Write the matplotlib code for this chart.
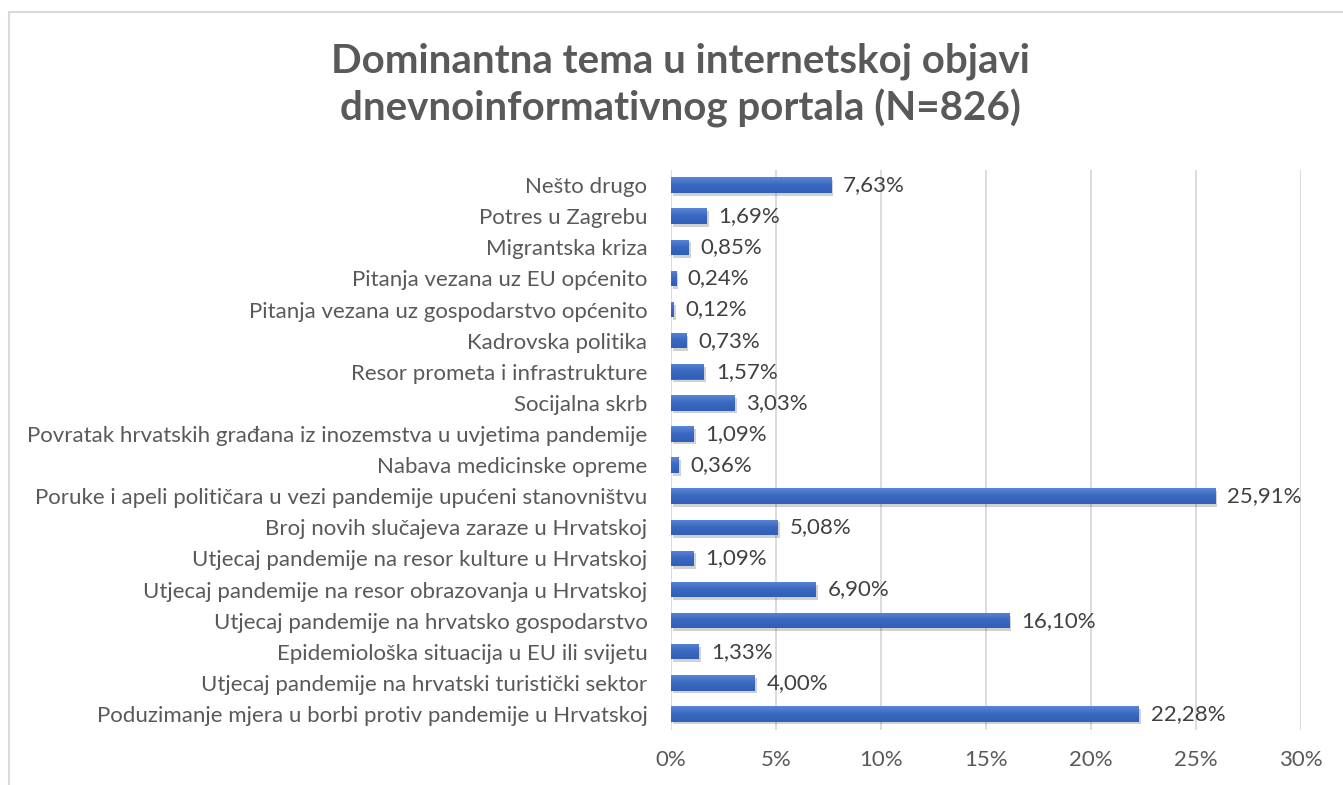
import matplotlib
matplotlib.use("Agg")
import matplotlib.pyplot as plt
import matplotlib.patheffects as pe
import numpy as np
from matplotlib.patches import Rectangle
from matplotlib.colors import LinearSegmentedColormap

categories = [
    "Nešto drugo",
    "Potres u Zagrebu",
    "Migrantska kriza",
    "Pitanja vezana uz EU općenito",
    "Pitanja vezana uz gospodarstvo općenito",
    "Kadrovska politika",
    "Resor prometa i infrastrukture",
    "Socijalna skrb",
    "Povratak hrvatskih građana iz inozemstva u uvjetima pandemije",
    "Nabava medicinske opreme",
    "Poruke i apeli političara u vezi pandemije upućeni stanovništvu",
    "Broj novih slučajeva zaraze u Hrvatskoj",
    "Utjecaj pandemije na resor kulture u Hrvatskoj",
    "Utjecaj pandemije na resor obrazovanja u Hrvatskoj",
    "Utjecaj pandemije na hrvatsko gospodarstvo",
    "Epidemiološka situacija u EU ili svijetu",
    "Utjecaj pandemije na hrvatski turistički sektor",
    "Poduzimanje mjera u borbi protiv pandemije u Hrvatskoj",
]
values = [7.63, 1.69, 0.85, 0.24, 0.12, 0.73, 1.57, 3.03, 1.09, 0.36,
          25.91, 5.08, 1.09, 6.90, 16.10, 1.33, 4.00, 22.28]
xticks = [0, 5, 10, 15, 20, 25, 30]
title = "Dominantna tema u internetskoj objavi\ndnevnoinformativnog portala (N=826)"

plt.rcParams['font.family'] = ['Lato', 'DejaVu Sans']

W, H = 1343, 785
fig = plt.figure(figsize=(W / 100, H / 100), dpi=100)
fig.patch.set_facecolor("white")

# chart border
fig.add_artist(Rectangle((9 / W, -0.01), 1.0, 1 - 12 / H + 0.01, transform=fig.transFigure,
                         fill=False, edgecolor="#d9d9d9", linewidth=1.5))

ax = fig.add_axes([671 / W, 1 - 729.5 / H, (1301 - 671) / W, (729.5 - 169.5) / H])
y = np.arange(len(categories))
bars = ax.barh(y, values, height=0.5, color="#4472C4", zorder=3,
               path_effects=[pe.SimplePatchShadow(offset=(1.5, -2), shadow_rgbFace="#000000", alpha=0.18),
                             pe.Normal()])

# gradient overlay on each bar
grad = np.linspace(0, 1, 64).reshape(-1, 1)
cmap = LinearSegmentedColormap.from_list("g", ["#5a86d6", "#3a68c0", "#2f5fbb"])
for b in bars:
    x0, y0 = b.get_x(), b.get_y()
    w, h = b.get_width(), b.get_height()
    im = ax.imshow(grad, extent=(x0, x0 + w, y0 + h, y0), aspect="auto", cmap=cmap,
                   zorder=4, interpolation="bilinear")
    im.set_clip_path(b)

ax.set_ylim(len(categories) - 0.5, -0.5)
ax.set_xlim(0, 30)
ax.set_xticks(xticks)
ax.set_xticklabels([f"{t}%" for t in xticks])
ax.set_yticks(y)
ax.set_yticklabels(categories)
ax.grid(axis="x", color="#d9d9d9", linewidth=1.3, zorder=0)
ax.set_axisbelow(True)
for s in ax.spines.values():
    s.set_visible(False)
ax.tick_params(axis="both", length=0, labelsize=16, colors="#595959")
ax.tick_params(axis="y", pad=17)
ax.tick_params(axis="x", pad=15)

for yi, v in zip(y, values):
    ax.annotate(f"{v:.2f}%".replace(".", ","), (v, yi), xytext=(8.5, 0), textcoords="offset points",
                va="center", ha="left", fontsize=16, color="#404040")

fig.text(680 / W, 1 - 85 / H, title, ha="center", va="center", fontsize=29, fontweight="bold",
         color="#595959", linespacing=1.27)

fig.savefig("out.png", dpi=100)
